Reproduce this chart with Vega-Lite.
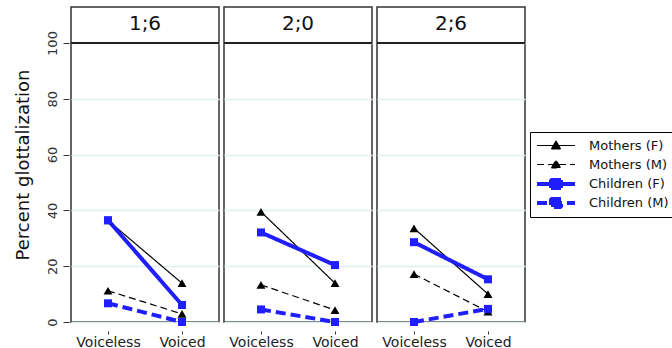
{
  "$schema": "https://vega.github.io/schema/vega-lite/v6.json",
  "padding": {"left": 14, "top": 6, "right": 5, "bottom": 0},
  "spacing": 1,
  "config": {
    "font": "DejaVu Sans",
    "view": {"stroke": "#333", "strokeWidth": 1.5}
  },
  "data": {"values": [
    {"age": "1;6", "group": "Mothers (F)", "voicing": "Voiceless", "value": 36.4},
    {"age": "1;6", "group": "Mothers (F)", "voicing": "Voiced", "value": 13.9},
    {"age": "1;6", "group": "Mothers (M)", "voicing": "Voiceless", "value": 11.2},
    {"age": "1;6", "group": "Mothers (M)", "voicing": "Voiced", "value": 2.9},
    {"age": "1;6", "group": "Children (F)", "voicing": "Voiceless", "value": 36.5},
    {"age": "1;6", "group": "Children (F)", "voicing": "Voiced", "value": 6.1},
    {"age": "1;6", "group": "Children (M)", "voicing": "Voiceless", "value": 6.7},
    {"age": "1;6", "group": "Children (M)", "voicing": "Voiced", "value": 0},
    {"age": "2;0", "group": "Mothers (F)", "voicing": "Voiceless", "value": 39.5},
    {"age": "2;0", "group": "Mothers (F)", "voicing": "Voiced", "value": 13.9},
    {"age": "2;0", "group": "Mothers (M)", "voicing": "Voiceless", "value": 13.3},
    {"age": "2;0", "group": "Mothers (M)", "voicing": "Voiced", "value": 4.3},
    {"age": "2;0", "group": "Children (F)", "voicing": "Voiceless", "value": 32.1},
    {"age": "2;0", "group": "Children (F)", "voicing": "Voiced", "value": 20.4},
    {"age": "2;0", "group": "Children (M)", "voicing": "Voiceless", "value": 4.5},
    {"age": "2;0", "group": "Children (M)", "voicing": "Voiced", "value": 0},
    {"age": "2;6", "group": "Mothers (F)", "voicing": "Voiceless", "value": 33.6},
    {"age": "2;6", "group": "Mothers (F)", "voicing": "Voiced", "value": 10},
    {"age": "2;6", "group": "Mothers (M)", "voicing": "Voiceless", "value": 17.2},
    {"age": "2;6", "group": "Mothers (M)", "voicing": "Voiced", "value": 3.7},
    {"age": "2;6", "group": "Children (F)", "voicing": "Voiceless", "value": 28.6},
    {"age": "2;6", "group": "Children (F)", "voicing": "Voiced", "value": 15.3},
    {"age": "2;6", "group": "Children (M)", "voicing": "Voiceless", "value": 0},
    {"age": "2;6", "group": "Children (M)", "voicing": "Voiced", "value": 4.7}
  ]},
  "facet": {
    "column": {"field": "age", "type": "nominal", "sort": ["1;6", "2;0", "2;6"], "header": {"labels": false, "title": null}}
  },
  "spec": {
    "width": 148,
    "height": 315,
    "encoding": {
      "y": {"field": "value", "type": "quantitative",
        "scale": {"domain": [0, 112.9], "nice": false, "zero": true},
        "axis": {"title": "Percent glottalization", "titleFontSize": 18, "titleFontWeight": "normal", "titleColor": "#111", "titlePadding": 14,
          "values": [0, 20, 40, 60, 80, 100], "labelAngle": -90, "labelFontSize": 13, "labelColor": "#333", "labelPadding": 4,
          "domain": false, "tickSize": 6, "tickColor": "#333", "grid": true, "gridColor": "#e3eef0", "gridWidth": 1.5}}
    },
    "layer": [
      {
        "mark": {"type": "line"},
        "encoding": {
          "x": {"field": "voicing", "type": "nominal", "sort": ["Voiceless", "Voiced"],
            "scale": {"type": "point", "padding": 0.5},
            "axis": {"title": null, "labelAngle": 0, "labelFontSize": 14, "labelColor": "#222", "domain": false, "tickSize": 3, "tickColor": "#333", "labelPadding": 1}},
          "color": {"field": "group", "type": "nominal", "sort": ["Mothers (F)", "Mothers (M)", "Children (F)", "Children (M)"],
            "scale": {"domain": ["Mothers (F)", "Mothers (M)", "Children (F)", "Children (M)"], "range": ["black", "black", "#1e1eff", "#1e1eff"]},
            "legend": {"title": null, "orient": "none", "legendX": 459, "legendY": 125, "strokeColor": "black", "padding": 7,
              "labelFontSize": 13, "labelColor": "#111", "symbolSize": 100, "symbolOffset": 12, "labelOffset": 26, "rowPadding": 5,
              "encode": {"symbols": {"update": {
                "shape": {"signal": "indexof(datum.value,'Mothers')>=0 ? 'M-3.8,0H3.8M-0.9,0.7L0,-0.9L0.9,0.7Z' : 'M-3.8,0H3.8M-1,-0.8H1V0.8H-1Z'"},
                "fill": {"signal": "indexof(datum.value,'Mothers')>=0 ? 'black' : '#1e1eff'"},
                "strokeJoin": {"value": "bevel"}}}}}},
          "strokeDash": {"field": "group", "type": "nominal",
            "scale": {"domain": ["Mothers (F)", "Mothers (M)", "Children (F)", "Children (M)"], "range": [[1, 0], [7, 4], [1, 0], [10, 5]]}},
          "strokeWidth": {"field": "group", "type": "nominal",
            "scale": {"type": "ordinal", "domain": ["Mothers (F)", "Mothers (M)", "Children (F)", "Children (M)"], "range": [1.2, 1.2, 4, 4]}}
        }
      },
      {
        "mark": {"type": "point", "filled": true, "opacity": 1},
        "encoding": {
          "x": {"field": "voicing", "type": "nominal", "sort": ["Voiceless", "Voiced"]},
          "color": {"field": "group", "type": "nominal"},
          "shape": {"condition": {"test": "indexof(datum.group,'Mothers')>=0", "value": "triangle-up"}, "value": "square"},
          "size": {"condition": {"test": "indexof(datum.group,'Mothers')>=0", "value": 80}, "value": 64}
        }
      },
      {
        "mark": {"type": "rule", "color": "#222", "strokeWidth": 1.5},
        "encoding": {"y": {"datum": 100}}
      },
      {
        "transform": [{"filter": "datum.group == 'Mothers (F)' && datum.voicing == 'Voiceless'"}],
        "mark": {"type": "text", "fontSize": 20, "color": "#111", "align": "center", "baseline": "middle"},
        "encoding": {"y": {"datum": 106.7}, "text": {"field": "age"}}
      }
    ]
  }
}
